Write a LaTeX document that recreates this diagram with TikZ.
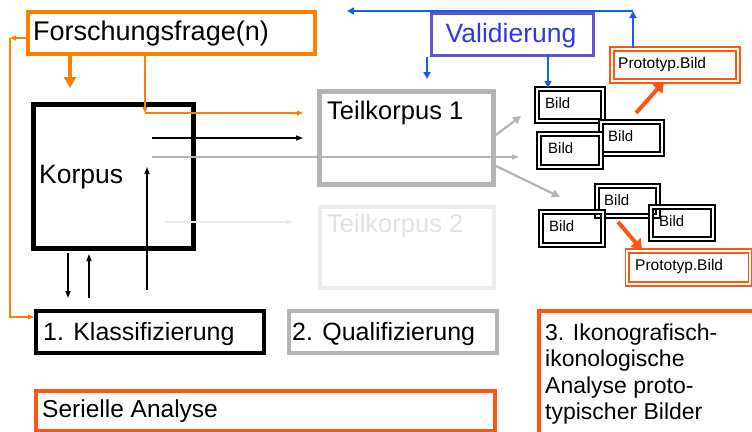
\documentclass[tikz,border=0pt]{standalone}
\usepackage{fontspec}
\setmainfont{Liberation Sans}
\usetikzlibrary{arrows.meta}
\definecolor{orangeF}{RGB}{255,128,0}
\definecolor{redo}{RGB}{255,85,20}
\definecolor{valborder}{RGB}{95,85,205}
\definecolor{valtext}{RGB}{50,55,225}
\definecolor{blueA}{RGB}{25,95,230}
\definecolor{grayA}{RGB}{180,180,180}
\definecolor{lightA}{RGB}{236,236,236}
\definecolor{tktwo}{RGB}{225,225,225}
\tikzset{
  box/.style={draw, inner sep=0pt, anchor=north west},
  dbl/.style={box, line width=1.7pt, double=white, double distance=2pt},
  txt/.style={inner sep=0pt, anchor=base west},
  othin/.style={draw=orangeF, line width=1.2pt, -{Triangle[length=6pt,width=5pt]}},
  othick/.style={draw=orangeF, line width=4pt, -{Triangle[length=11pt,width=12pt]}},
  bthin/.style={draw=black, line width=1.4pt, -{Triangle[length=7pt,width=5pt]}},
  gthin/.style={draw=grayA, line width=1.5pt, -{Triangle[length=7pt,width=5pt]}},
  lthin/.style={draw=lightA, line width=1.5pt, -{Triangle[length=7pt,width=5pt]}},
  garrow/.style={draw=grayA, line width=2.2pt, -{Triangle[length=8pt,width=8pt]}},
  barrow/.style={draw=blueA, line width=2pt, -{Triangle[length=7pt,width=7pt]}},
  rarrow/.style={draw=redo, line width=4pt, -{Triangle[length=10pt,width=13pt]}},
}
\begin{document}
\begin{tikzpicture}[x=1pt,y=-1pt]
\path[use as bounding box] (0,0) rectangle (752,431);
\clip (0,0) rectangle (752,431);
\fill[white] (0,0) rectangle (752,431);

% main boxes
\node[box, draw=orangeF, line width=4pt, minimum width=287pt, minimum height=42pt] (F) at (26,10) {};
\node[txt, font=\fontsize{27}{32}\selectfont] (Ft) at (33,40) {Forschungsfrage(n)};

\node[box, draw=black, line width=4.5pt, minimum width=160pt, minimum height=144pt] (K) at (31,102) {};
\node[txt, font=\fontsize{26.5}{32}\selectfont] (Kt) at (39,183) {Korpus};

\node[box, draw=grayA, line width=5pt, minimum width=174pt, minimum height=93pt] (T1) at (317,89) {};
\node[txt, font=\fontsize{25.5}{30}\selectfont] (T1t) at (327,119) {Teilkorpus 1};

\node[box, draw=lightA, line width=4pt, minimum width=174pt, minimum height=81pt] (T2) at (318,205) {};
\node[txt, text=tktwo, font=\fontsize{25.5}{30}\selectfont] (T2t) at (327,232) {Teilkorpus 2};

\node[box, draw=valborder, line width=3pt, minimum width=162pt, minimum height=42pt] (V) at (430,12) {};
\node[inner sep=0pt, anchor=base, text=valtext, font=\fontsize{26.5}{32}\selectfont] (Vt) at (511,42) {Validierung};

\node[box, draw=black, line width=4pt, minimum width=228pt, minimum height=42pt] (K1) at (34,309) {};
\node[txt, font=\fontsize{25}{30}\selectfont] (K1t) at (43,340) {1. Klassifizierung};

\node[box, draw=grayA, line width=4pt, minimum width=208pt, minimum height=42pt] (Q2) at (287,309) {};
\node[txt, font=\fontsize{25}{30}\selectfont] (Q2t) at (292,340) {2. Qualifizierung};

\node[box, draw=redo, line width=4pt, minimum width=230pt, minimum height=130pt] (I3) at (537,309) {};
\node[txt, font=\fontsize{23}{26.5}\selectfont, align=left, anchor=north west] (I3t) at (545,323.5) {3. Ikonografisch-\\ikonologische\\Analyse proto-\\typischer Bilder};

\node[box, draw=redo, line width=3.5pt, minimum width=459pt, minimum height=40pt] (S) at (34,389) {};
\node[txt, font=\fontsize{24.5}{30}\selectfont] (St) at (42,417) {Serielle Analyse};

% prototyp boxes
\node[dbl, draw=redo, minimum width=126pt, minimum height=32pt] (P1) at (611,48) {};
\node[txt, font=\fontsize{15.5}{18}\selectfont] (P1t) at (618,68) {Prototyp.Bild};
\node[dbl, draw=redo, minimum width=123pt, minimum height=33pt] (P2) at (626.5,250) {};
\node[txt, font=\fontsize{15.5}{18}\selectfont] (P2t) at (635,270) {Prototyp.Bild};

% Bild boxes
\node[dbl, minimum width=66pt, minimum height=32pt] (B1) at (536,88) {};
\node[dbl, minimum width=61pt, minimum height=32pt] (B2) at (600,121) {};
\node[dbl, minimum width=62pt, minimum height=33pt] (B3) at (538,133) {};
\node[dbl, minimum width=61pt, minimum height=30pt] (B4) at (596,185) {};
\node[dbl, minimum width=62pt, minimum height=33pt] (B5) at (540,211) {};
\node[dbl, minimum width=62pt, minimum height=32pt] (B6) at (650,206) {};
\begin{scope}[font=\fontsize{15}{18}\selectfont]
\node[txt] (B1t) at (545,108) {Bild};
\node[txt] (B2t) at (608,141) {Bild};
\node[txt] (B3t) at (548,153) {Bild};
\node[txt] (B4t) at (604,205) {Bild};
\node[txt] (B5t) at (549,231) {Bild};
\node[txt] (B6t) at (659,226) {Bild};
\end{scope}

% orange connectors
\coordinate (c1) at (10,38);
\coordinate (c2) at (10,317);
\draw[othin] (F.west |- c1) -- (c1);
\draw[othin] (c1) -- (c2) -- (K1.west |- c2);
\coordinate (fa) at (70,88);
\draw[othick] (F.south -| fa) -- (fa);
\coordinate (fb) at (145,113);
\coordinate (fbend) at (303,113);
\draw[othin] (F.south -| fb) -- (fb);
\draw[othin] (fb) -- (fbend);

% Korpus connectors
\coordinate (ka) at (152,138);
\coordinate (kae) at (303,138);
\draw[bthin] (ka) -- (kae);
\coordinate (kb) at (152,157);
\coordinate (kbe) at (519,157);
\draw[gthin] (kb) -- (kbe);
\coordinate (kc) at (165,222);
\coordinate (kce) at (293,222);
\draw[lthin] (kc) -- (kce);
\coordinate (kd) at (147,290);
\coordinate (kde) at (147,167);
\draw[bthin] (kd) -- (kde);
\coordinate (ke) at (68,253);
\coordinate (kee) at (68,298);
\draw[bthin] (ke) -- (kee);
\coordinate (kf) at (89,298);
\coordinate (kfe) at (89,254);
\draw[bthin] (kf) -- (kfe);

% Teilkorpus 1 out
\coordinate (ta) at (521,116);
\coordinate (tb) at (560,197);
\draw[garrow] (T1.east |- 0,135) -- (ta);
\draw[garrow] (T1.east |- 0,166) -- (tb);

% blue connectors
\coordinate (vtop) at (633,11);
\coordinate (vend) at (347,11);
\draw[barrow] (P1.north -| vtop) -- (vtop);
\draw[barrow] (vtop) -- (vend);
\coordinate (vd1) at (427,79);
\draw[barrow] (V.south west -| vd1) -- (vd1);
\coordinate (vs2) at (548,54);
\draw[barrow] (vs2) -- (B1.north -| vs2);

% red-orange arrows
\coordinate (ra) at (636,113);
\coordinate (rb) at (618,222);
\draw[rarrow] (ra) -- (P1.south -| 664,0);
\draw[rarrow] (rb) -- (P2.north -| 642,0);
\end{tikzpicture}
\end{document}
